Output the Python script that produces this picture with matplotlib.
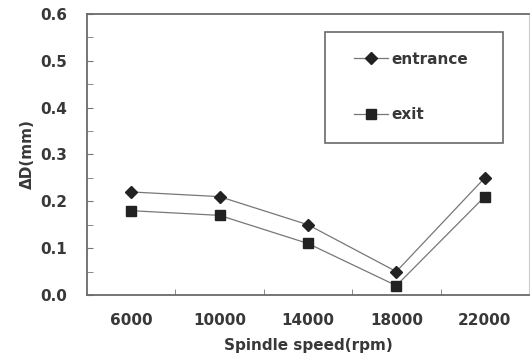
import numpy as np
import matplotlib
matplotlib.use("Agg")
import matplotlib.pyplot as plt
from matplotlib.patches import Rectangle

# data
speeds = ['6000', '10000', '14000', '18000', '22000']
entrance = [0.22, 0.21, 0.15, 0.05, 0.25]
exit_ = [0.18, 0.17, 0.11, 0.02, 0.21]
yticks = [0.0, 0.1, 0.2, 0.3, 0.4, 0.5, 0.6]

plt.rcParams['font.family'] = ['DejaVu Sans']
plt.rcParams['font.weight'] = 'bold'
plt.rcParams['axes.labelweight'] = 'bold'
txt = '#383838'
fs = 11

fig = plt.figure(figsize=(5.3, 3.58), dpi=100)
ax = fig.add_axes([0.164, 0.176, 0.834, 0.785])

x = np.arange(len(speeds))
ax.plot(x, entrance, color='#777777', lw=0.9, marker='D', ms=6.5,
        mfc='#222222', mec='#222222', label='entrance')
ax.plot(x, exit_, color='#777777', lw=0.9, marker='s', ms=7.5,
        mfc='#222222', mec='#222222', label='exit')

ax.set_xlim(-0.5, len(speeds) - 0.5)
ax.set_ylim(0, 0.6)
ax.set_xticks(x)
ax.set_xticklabels(speeds)
ax.set_xticks(np.arange(0.5, len(speeds) - 1), minor=True)
ax.set_yticks(yticks)
ax.set_yticklabels(['%.1f' % v for v in yticks])
ax.set_yticks(np.arange(0.05, 0.6, 0.1), minor=True)

ax.tick_params(axis='x', which='major', length=0, pad=13, labelsize=fs, colors=txt)
ax.tick_params(axis='x', which='minor', direction='in', length=4, color='#777777')
ax.tick_params(axis='y', which='both', direction='in', length=4, color='#777777',
               labelsize=fs, labelcolor=txt, pad=14)

for s in ax.spines.values():
    s.set_color('#6a6a6a')
    s.set_linewidth(1.3)
ax.spines['right'].set_color('#cccccc')
ax.spines['right'].set_linewidth(0.8)

ax.set_xlabel('Spindle speed(rpm)', fontsize=fs, color=txt, labelpad=7.5)
ax.set_ylabel('ΔD(mm)', fontsize=fs, color=txt, labelpad=4)

# legend entries without frame, box drawn separately
leg = ax.legend(loc='center left', bbox_to_anchor=(0.605, 0.74), frameon=False,
                fontsize=fs, labelspacing=2.65, borderpad=0,
                handlelength=2.2, handletextpad=0.2, borderaxespad=0)
for t in leg.get_texts():
    t.set_color(txt)
ax.add_patch(Rectangle((0.538, 0.541), 0.403, 0.395, transform=ax.transAxes,
                       fill=False, edgecolor='#6a6a6a', lw=1.2, zorder=5))

fig.savefig('out.png', dpi=100)
